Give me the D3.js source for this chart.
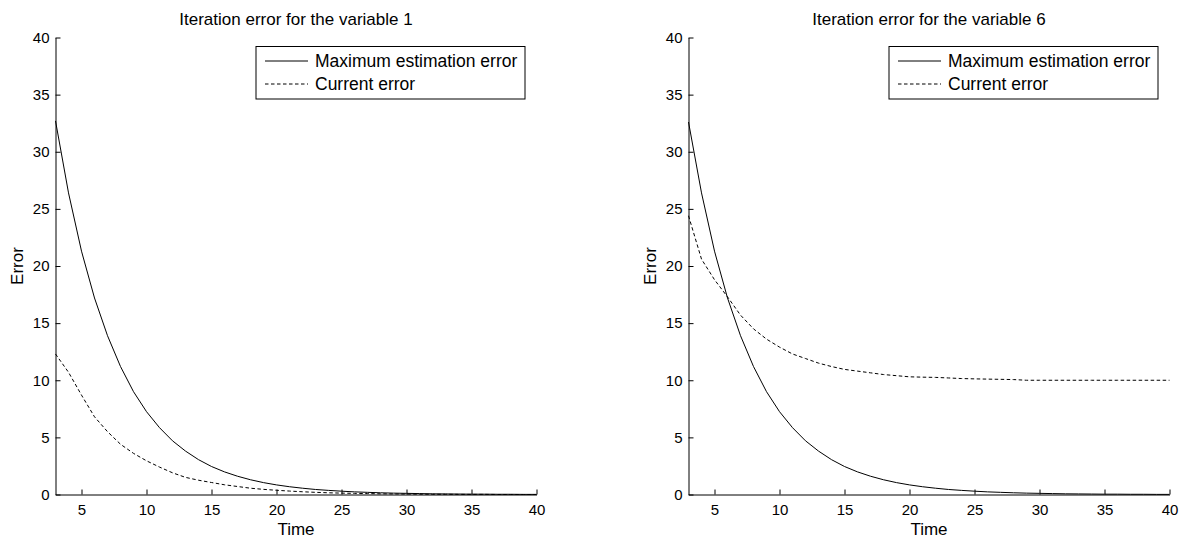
<!DOCTYPE html>
<html>
<head>
<meta charset="utf-8">
<script src="https://cdn.jsdelivr.net/npm/d3@7"></script>
<style>
html,body{margin:0;padding:0;background:#fff;}
svg{display:block;}
text{font-family:"Liberation Sans",Arial,Helvetica,sans-serif;fill:#000;}
</style>
</head>
<body>
<svg id="chart" width="1182" height="539"></svg>
<script>
// ---- data ----
const time = [3,4,5,6,7,8,9,10,11,12,13,14,15,16,17,18,19,20,21,22,23,24,25,26,27,28,29,30,31,32,33,34,35,36,37,38,39,40];

const maxErr1 = [32.7,26.4,21.3,17.2,13.9,11.2,9.0,7.25,5.85,4.7,3.8,3.05,2.45,1.98,1.6,1.29,1.04,0.84,0.68,0.55,0.44,0.36,0.29,0.23,0.19,0.15,0.12,0.1,0.08,0.06,0.05,0.04,0.03,0.03,0.02,0.02,0.01,0.01];
const curErr1 = [12.3,10.7,8.7,6.8,5.5,4.4,3.6,2.95,2.4,1.9,1.5,1.25,1.05,0.85,0.7,0.55,0.45,0.37,0.3,0.24,0.19,0.15,0.12,0.1,0.08,0.06,0.05,0.04,0.03,0.02,0.02,0.01,0.01,0.01,0.0,0.0,0.0,0.0];

const maxErr6 = [32.6,26.4,21.3,17.2,13.9,11.2,9.0,7.25,5.85,4.7,3.8,3.05,2.45,1.98,1.6,1.29,1.04,0.84,0.68,0.55,0.44,0.36,0.29,0.23,0.19,0.15,0.12,0.1,0.08,0.06,0.05,0.04,0.03,0.03,0.02,0.02,0.01,0.01];
const curErr6 = [24.4,20.6,18.8,17.3,15.7,14.5,13.6,12.9,12.3,11.9,11.5,11.2,10.95,10.8,10.65,10.5,10.4,10.3,10.27,10.25,10.2,10.15,10.12,10.1,10.08,10.06,10.0,10.0,10.0,10.0,10.0,10.0,10.0,10.0,10.0,10.0,10.0,10.0];

const xTicks = [5,10,15,20,25,30,35,40];
const yTicks = [0,5,10,15,20,25,30,35,40];
const titles = ["Iteration error for the variable 1","Iteration error for the variable 6"];
const seriesNames = ["Maximum estimation error","Current error"];
const xLabel = "Time";
const yLabel = "Error";

// ---- drawing ----
const svg = d3.select("#chart");

const panels = [
  {x0:55.5, x1:536.5, title:titles[0], maxE:maxErr1, curE:curErr1},
  {x0:688.5, x1:1169.5, title:titles[1], maxE:maxErr6, curE:curErr6}
];
const yTop = 37.5, yBot = 494.5;

panels.forEach(p => {
  const x = d3.scaleLinear().domain([3,40]).range([p.x0,p.x1]);
  const y = d3.scaleLinear().domain([0,40]).range([yBot,yTop]);
  const g = svg.append("g");

  // axes
  const xAxis = d3.axisBottom(x).tickValues(xTicks).tickSizeInner(-5).tickSizeOuter(0).tickPadding(10);
  const yAxis = d3.axisLeft(y).tickValues(yTicks).tickSizeInner(-5).tickSizeOuter(0).tickPadding(6);

  const gx = g.append("g").attr("transform",`translate(0,${yBot})`).call(xAxis);
  const gy = g.append("g").attr("transform",`translate(${p.x0},0)`).call(yAxis);
  [gx,gy].forEach(a=>{
    a.selectAll("path").attr("stroke","#000").attr("stroke-width",1);
    a.selectAll("line").attr("stroke","#000").attr("stroke-width",1);
    a.selectAll("text").attr("font-size",15).attr("font-family",'"Liberation Sans",Arial,sans-serif').attr("fill","#000");
  });

  // lines
  const data = (vals) => time.map((t,i)=>({t, v: vals[i]}));
  const line = d3.line().x(d=>x(d.t)).y(d=>y(d.v));
  g.append("path").datum(data(p.maxE)).attr("d",line)
    .attr("fill","none").attr("stroke","#000").attr("stroke-width",1);
  g.append("path").datum(data(p.curE)).attr("d",line)
    .attr("fill","none").attr("stroke","#000").attr("stroke-width",1).attr("stroke-dasharray","3.5,2.5");

  // title
  g.append("text").attr("x",(p.x0+p.x1)/2).attr("y",25).attr("text-anchor","middle")
    .attr("font-size",17).text(p.title);
  // axis labels
  g.append("text").attr("x",(p.x0+p.x1)/2).attr("y",535).attr("text-anchor","middle")
    .attr("font-size",17).text(xLabel);
  g.append("text").attr("transform",`translate(${p.x0-33},${(yTop+yBot)/2}) rotate(-90)`)
    .attr("text-anchor","middle").attr("font-size",17).text(yLabel);

  // legend
  const lx = p.x0 + 200.5, ly = 46.5, lw = 269, lh = 52.5;
  const lg = g.append("g");
  lg.append("rect").attr("x",lx).attr("y",ly).attr("width",lw).attr("height",lh)
    .attr("fill","#fff").attr("stroke","#000").attr("stroke-width",1);
  const items = [{name:seriesNames[0], dash:null, yy:ly+14.5},{name:seriesNames[1], dash:"3.5,2.5", yy:ly+37.5}];
  items.forEach(it=>{
    lg.append("line").attr("x1",lx+9).attr("x2",lx+52).attr("y1",it.yy).attr("y2",it.yy)
      .attr("stroke","#000").attr("stroke-width",1).attr("stroke-dasharray",it.dash);
    lg.append("text").attr("x",lx+59).attr("y",it.yy+6).attr("font-size",17.5).text(it.name);
  });
});
</script>
</body>
</html>
